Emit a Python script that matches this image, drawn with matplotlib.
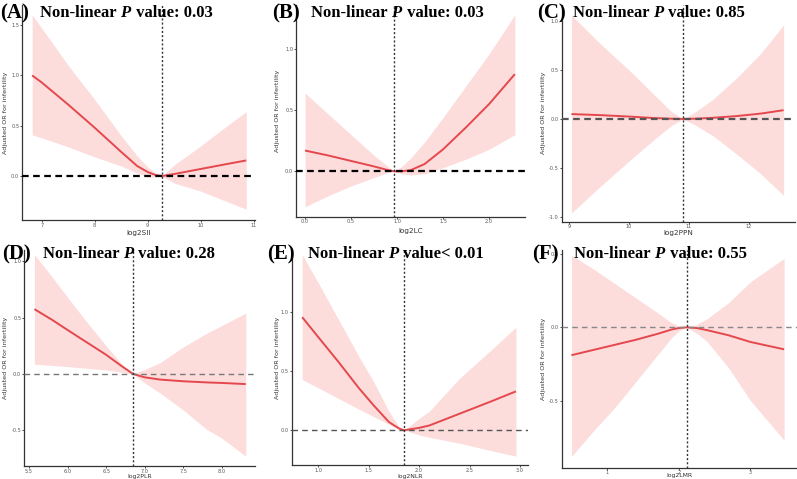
import matplotlib
matplotlib.use("Agg")
import matplotlib.pyplot as plt
from matplotlib.transforms import blended_transform_factory

W, H = 797, 479
DPI = 100

# ---------------- data ----------------
a_x = [6.82, 7.0, 7.5, 8.0, 8.5, 8.8, 9.0, 9.15, 9.27, 9.5, 10.0, 10.5, 10.86]
a_fit = [1.0, 0.93, 0.71, 0.48, 0.24, 0.10, 0.04, 0.01, 0.0, 0.02, 0.07, 0.12, 0.155]
a_hi = [1.60, 1.47, 1.10, 0.76, 0.40, 0.20, 0.09, 0.03, 0.0, 0.11, 0.30, 0.50, 0.64]
a_lo = [0.41, 0.38, 0.29, 0.19, 0.10, 0.03, -0.01, -0.01, 0.0, -0.07, -0.15, -0.255, -0.33]

b_x = [0.0, 0.25, 0.5, 0.75, 0.9, 0.97, 1.05, 1.15, 1.3, 1.5, 1.75, 2.0, 2.28]
b_fit = [0.17, 0.13, 0.085, 0.04, 0.01, 0.0, 0.0, 0.01, 0.06, 0.18, 0.36, 0.55, 0.795]
b_hi = [0.64, 0.47, 0.30, 0.13, 0.04, 0.0, 0.04, 0.11, 0.24, 0.44, 0.70, 0.96, 1.28]
b_lo = [-0.29, -0.20, -0.12, -0.05, -0.01, 0.0, -0.02, -0.03, -0.02, 0.03, 0.10, 0.18, 0.30]

c_x = [9.04, 9.5, 10.0, 10.4, 10.7, 10.9, 11.1, 11.4, 11.8, 12.2, 12.58]
c_fit = [0.05, 0.04, 0.025, 0.01, 0.003, 0.0, 0.003, 0.012, 0.03, 0.055, 0.09]
c_hi = [1.06, 0.78, 0.50, 0.26, 0.08, 0.0, 0.07, 0.20, 0.42, 0.67, 0.96]
c_lo = [-0.96, -0.70, -0.43, -0.22, -0.07, 0.0, -0.06, -0.17, -0.36, -0.56, -0.78]

d_x = [5.57, 5.8, 6.0, 6.25, 6.5, 6.7, 6.85, 7.0, 7.2, 7.5, 7.8, 8.0, 8.31]
d_fit = [0.575, 0.48, 0.39, 0.28, 0.17, 0.07, 0.0, -0.03, -0.05, -0.065, -0.075, -0.08, -0.09]
d_hi = [1.06, 0.86, 0.68, 0.46, 0.25, 0.09, 0.0, 0.04, 0.10, 0.24, 0.36, 0.43, 0.54]
d_lo = [0.086, 0.075, 0.065, 0.05, 0.035, 0.015, 0.0, -0.08, -0.17, -0.32, -0.49, -0.57, -0.73]

e_x = [0.84, 1.0, 1.2, 1.4, 1.55, 1.7, 1.8, 1.85, 2.0, 2.1, 2.4, 2.7, 2.96]
e_fit = [0.96, 0.79, 0.58, 0.36, 0.21, 0.07, 0.015, 0.0, 0.02, 0.04, 0.14, 0.24, 0.33]
e_hi = [1.49, 1.25, 0.94, 0.63, 0.41, 0.16, 0.03, 0.0, 0.10, 0.16, 0.44, 0.67, 0.875]
e_lo = [0.43, 0.36, 0.27, 0.18, 0.115, 0.05, 0.01, 0.0, -0.04, -0.06, -0.11, -0.17, -0.22]

f_x = [0.5, 0.8, 1.1, 1.4, 1.7, 1.9, 2.0, 2.11, 2.25, 2.4, 2.7, 3.0, 3.47]
f_fit = [-0.19, -0.155, -0.12, -0.085, -0.045, -0.015, -0.005, 0.0, -0.005, -0.02, -0.055, -0.10, -0.15]
f_hi = [0.49, 0.40, 0.30, 0.20, 0.10, 0.03, 0.01, 0.0, 0.02, 0.06, 0.17, 0.31, 0.47]
f_lo = [-0.88, -0.71, -0.55, -0.37, -0.19, -0.07, -0.025, 0.0, -0.04, -0.10, -0.28, -0.50, -0.77]

knots = [9.27, 0.97, 10.9, 6.85, 1.85, 2.11]
xlabels = ["log2SII", "log2LC", "log2PPN", "log2PLR", "log2NLR", "log2LMR"]
letters = ["(A)", "(B)", "(C)", "(D)", "(E)", "(F)"]
pvals = [" value: 0.03", " value: 0.03", " value: 0.85", " value: 0.28", " value< 0.01", " value: 0.55"]
xticks = [[7, 8, 9, 10, 11], [0.0, 0.5, 1.0, 1.5, 2.0], [9, 10, 11, 12],
          [5.5, 6.0, 6.5, 7.0, 7.5, 8.0], [1.0, 1.5, 2.0, 2.5, 3.0], [1, 2, 3]]
xticklabels = [["7", "8", "9", "10", "11"], ["0.0", "0.5", "1.0", "1.5", "2.0"],
               ["9", "10", "11", "12"], ["5.5", "6.0", "6.5", "7.0", "7.5", "8.0"],
               ["1.0", "1.5", "2.0", "2.5", "3.0"], ["1", "2", "3"]]
yticks = [[0.0, 0.5, 1.0, 1.5], [0.0, 0.5, 1.0], [-1.0, -0.5, 0.0, 0.5, 1.0],
          [-0.5, 0.0, 0.5, 1.0], [0.0, 0.5, 1.0], [-0.5, 0.0, 0.5]]

series = [(a_x, a_fit, a_hi, a_lo), (b_x, b_fit, b_hi, b_lo), (c_x, c_fit, c_hi, c_lo),
          (d_x, d_fit, d_hi, d_lo), (e_x, e_fit, e_hi, e_lo), (f_x, f_fit, f_hi, f_lo)]

# ---------------- layout (pixel boxes & limits) ----------------
# (left_px, right_px, top_px, bottom_px, xlim, ylim)
boxes = [
    (22, 255, 5, 220, (6.628, 11.025), (-0.437, 1.70)),
    (296, 525, 5, 216.7, (-0.098, 2.39), (-0.371, 1.36)),
    (561.7, 795, 5, 221.7, (8.878, 12.77), (-1.048, 1.163)),
    (24, 255, 250, 466, (5.435, 8.43), (-0.817, 1.10)),
    (291.7, 528, 250, 465, (0.736, 3.08), (-0.295, 1.53)),
    (561.7, 797, 250, 467.7, (0.364, 3.65), (-0.957, 0.527)),
]
ylabel_px = [6, 278, 543, 6, 278, 543]
xlabel_py = [233, 231, 233, 476.5, 476.5, 476]
title_pos = [(0, 40, 13), (272, 311, 13), (537, 573, 13), (2, 43, 254), (267, 308, 254), (532, 574, 254)]

hline_style = [dict(color="black", lw=1.6, dashes=(3, 2)),
               dict(color="black", lw=1.6, dashes=(3, 2)),
               dict(color="#555555", lw=1.6, dashes=(3, 2)),
               dict(color="#777777", lw=1.0, dashes=(4, 3)),
               dict(color="#555555", lw=1.0, dashes=(4, 3)),
               dict(color="#888888", lw=1.0, dashes=(4, 3))]

LINE = "#e4484d"
BAND = "#fddcdc"

fig = plt.figure(figsize=(W / DPI, H / DPI), dpi=DPI)
fig.patch.set_facecolor("white")

for i, (box, s) in enumerate(zip(boxes, series)):
    l, r, t, b, xl, yl = box
    ax = fig.add_axes([l / W, 1 - b / H, (r - l) / W, (b - t) / H])
    x, fit, hi, lo = s
    ax.fill_between(x, lo, hi, color=BAND, lw=0, zorder=1)
    ax.plot(x, fit, color=LINE, lw=1.4, zorder=3, solid_capstyle="butt")
    ax.axhline(0, zorder=4, **hline_style[i])
    ax.axvline(knots[i], color="#333333", lw=1.0, dashes=(1.5, 1.5), zorder=4)
    ax.set_xlim(*xl)
    ax.set_ylim(*yl)
    ax.set_xticks(xticks[i])
    ax.set_xticklabels(xticklabels[i])
    ax.set_yticks(yticks[i])
    ax.set_yticklabels([f"{v:.1f}" for v in yticks[i]])
    for sp in ["top", "right"]:
        ax.spines[sp].set_visible(False)
    for sp in ["left", "bottom"]:
        ax.spines[sp].set_color("#333333")
        ax.spines[sp].set_linewidth(0.9)
    ax.tick_params(axis="both", length=1.5, width=0.6, colors="#333333", labelsize=3.6,
                   labelcolor="#555555", pad=0.5)
    xfs = 5.2 if i < 3 else 4.4
    ax.set_xlabel(xlabels[i], fontsize=xfs, color="#333333")
    ax.set_ylabel("Adjusted OR for infertility", fontsize=4.6, color="#333333")
    # label positions in figure pixels
    ax.xaxis.set_label_coords(0.5, 1 - xlabel_py[i] / H,
                              transform=blended_transform_factory(ax.transAxes, fig.transFigure))
    ax.xaxis.label.set_va("center")
    ax.yaxis.set_label_coords(ylabel_px[i] / W, 0.5,
                              transform=blended_transform_factory(fig.transFigure, ax.transAxes))
    ax.yaxis.label.set_va("center")
    ax.set_facecolor("none")

# titles
fig.canvas.draw()
renderer = fig.canvas.get_renderer()
lfont = dict(family="Liberation Serif", fontweight="bold", fontsize=15, color="black")
tfont = dict(family="Liberation Serif", fontweight="bold", fontsize=12, color="black")
for i, (lx, nx, cy) in enumerate(title_pos):
    fig.text(lx / W, 1 - cy / H, letters[i], va="center", ha="left", **lfont)
    t1 = fig.text(nx / W, 1 - cy / H, "Non-linear ", va="center", ha="left", **tfont)
    bb = t1.get_window_extent(renderer)
    t2 = fig.text(bb.x1 / W, 1 - cy / H, "P", va="center", ha="left", style="italic", **tfont)
    bb2 = t2.get_window_extent(renderer)
    fig.text((bb2.x1 + 1) / W, 1 - cy / H, pvals[i], va="center", ha="left", **tfont)

fig.savefig("out.png", dpi=DPI)
